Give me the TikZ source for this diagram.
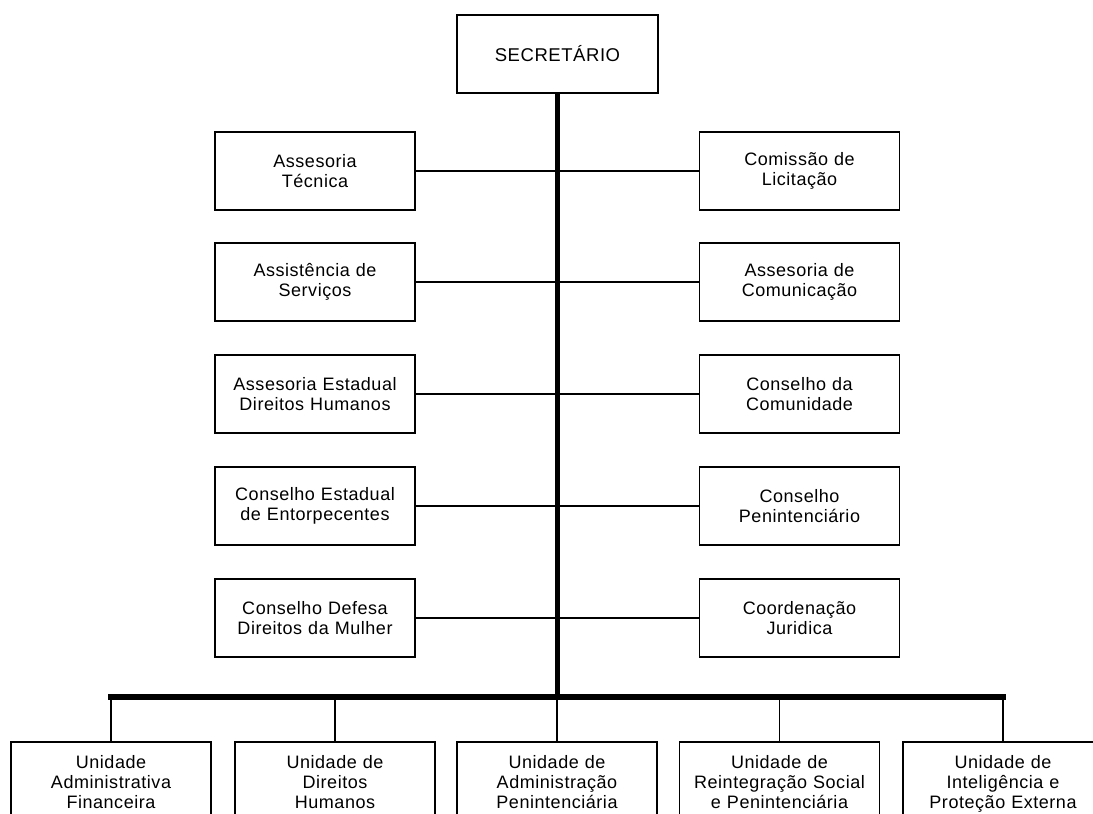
\documentclass[tikz,border=0pt]{standalone}
\usepackage{fontspec}
\setmainfont{Liberation Sans}[LetterSpace=3]
\begin{document}
\begin{tikzpicture}[x=1pt,y=-1pt,
  box/.style={draw, line width=1.5pt, rectangle, minimum width=200pt, minimum height=78pt,
    text width=190pt, inner xsep=5pt, align=center, font=\fontsize{18}{20}\selectfont},
  ubox/.style={draw, line width=1.5pt, rectangle, anchor=north, minimum width=200pt,
    text width=190pt, inner xsep=5pt, inner ysep=14pt, align=center, font=\fontsize{18}{20}\selectfont},
  link/.style={line width=1.2pt},
  spine/.style={line width=5.5pt},
  bar/.style={line width=6pt, line cap=rect}]
\clip (0,0) rectangle (1093,814);
\fill[white] (0,0) rectangle (1093,814);

\node[box, minimum width=201pt, font=\fontsize{18.5}{20}\selectfont] (sec) at (557.5,54) {SECRETÁRIO};

\node[box] (l1) at (315,171) {Assesoria\\Técnica};
\node[box] (l2) at (315,282) {Assistência de\\Serviços};
\node[box] (l3) at (315,394) {Assesoria Estadual\\Direitos Humanos};
\node[box] (l4) at (315,506) {Conselho Estadual\\de Entorpecentes};
\node[box] (l5) at (315,618) {Conselho Defesa\\Direitos da Mulher};

\node[box] (r1) at (799.5,171) {Comissão de\\Licitação};
\node[box] (r2) at (799.5,282) {Assesoria de\\Comunicação};
\node[box] (r3) at (799.5,394) {Conselho da\\Comunidade};
\node[box] (r4) at (799.5,506) {Conselho\\Penintenciário};
\node[box] (r5) at (799.5,618) {Coordenação\\Juridica};

\node[ubox] (u1) at (111,741) {Unidade\\Administrativa\\Financeira};
\node[ubox] (u2) at (335,741) {Unidade de\\Direitos\\Humanos};
\node[ubox] (u3) at (557,741) {Unidade de\\Administração\\Penintenciária};
\node[ubox] (u4) at (779.5,741) {Unidade de\\Reintegração Social\\e Penintenciária};
\node[ubox] (u5) at (1003,741) {Unidade de\\Inteligência e\\Proteção Externa};

\coordinate (j) at (557.5,696.5);

\foreach \i in {1,...,5} {
  \draw[link] (l\i.east) -- (r\i.west);
}
\draw[spine] (sec.south) -- (j);
\draw[bar] (u1.north |- j) -- (u5.north |- j);
\foreach \i in {1,...,5} {
  \draw[link] (u\i.north |- j) -- (u\i.north);
}
\end{tikzpicture}
\end{document}
